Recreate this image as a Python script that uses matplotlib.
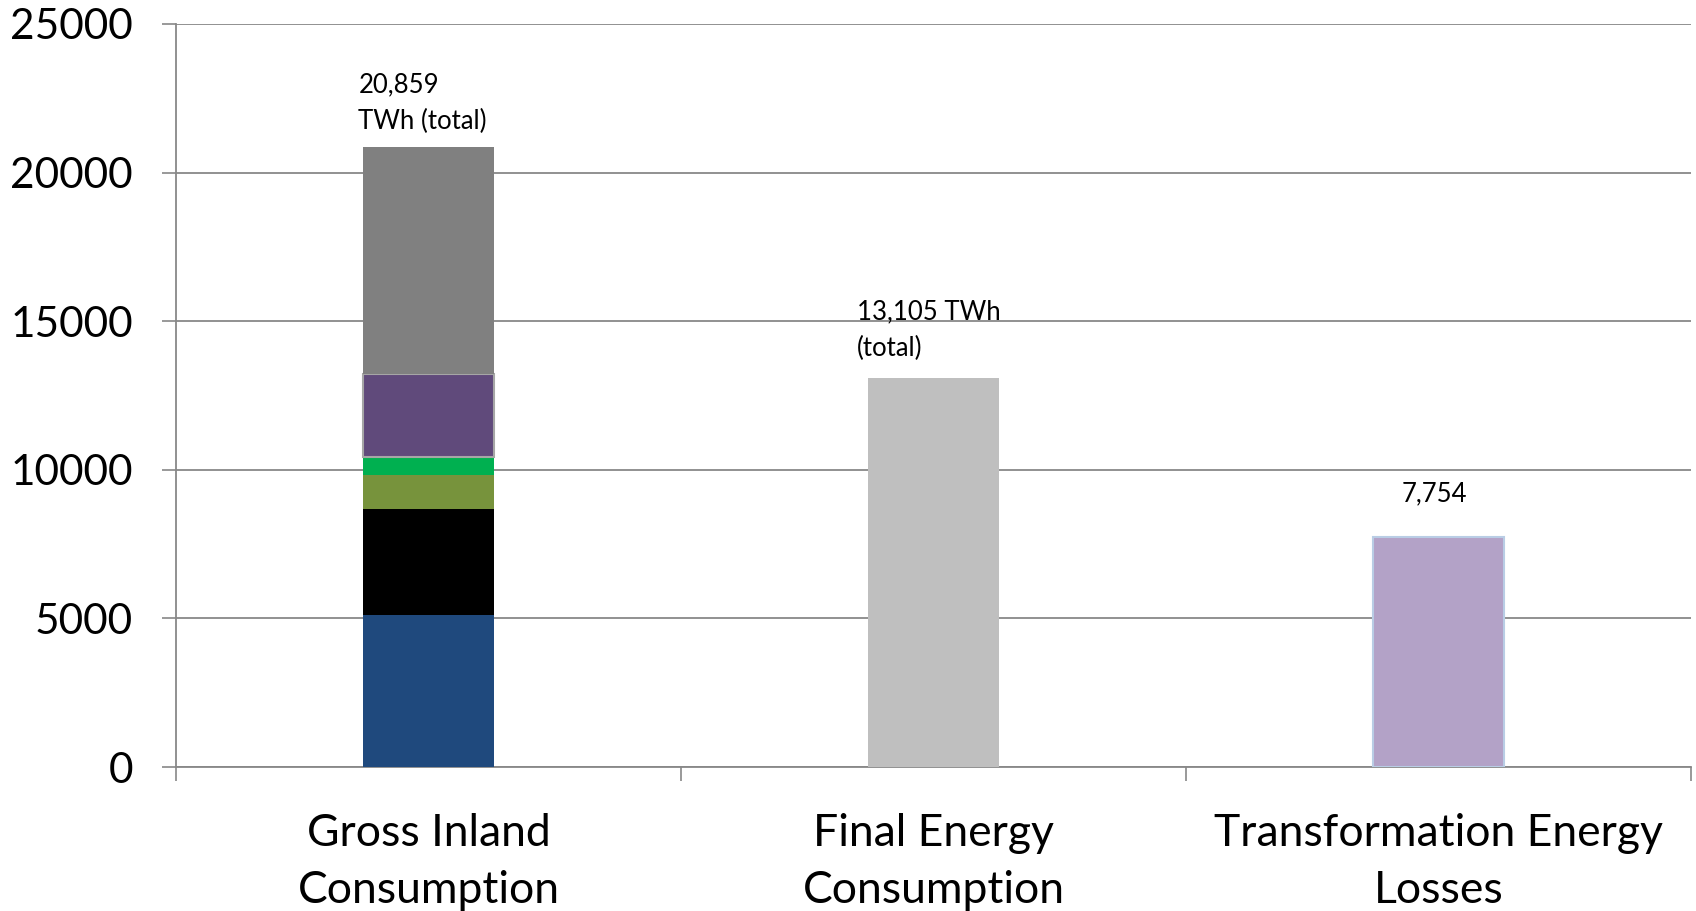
import matplotlib
matplotlib.use("Agg")
import matplotlib.pyplot as plt
import numpy as np

categories = ["Gross Inland\nConsumption", "Final Energy\nConsumption", "Transformation Energy\nLosses"]
# Stacked segments of Gross Inland Consumption (bottom to top), TWh
gross_segments = [5110, 3575, 1130, 630, 2780, 7634]
gross_colors = ["#1F497D", "#000000", "#77933C", "#00B050", "#604A7B", "#808080"]
final_value = 13105
losses_value = 7754
annotations = ["20,859\nTWh (total)", "13,105 TWh\n(total)", "7,754"]
yticks = [0, 5000, 10000, 15000, 20000, 25000]

plt.rcParams['font.family'] = ['Lato', 'DejaVu Sans']

fig = plt.figure(figsize=(16.96, 9.11), dpi=100)
ax = fig.add_axes([0.1038, 0.158, 0.8932, 0.8157])

w = 0.26
bottom = 0
for val, col in zip(gross_segments, gross_colors):
    ec = "#A6A6A6" if col == "#604A7B" else col
    lw = 1.5 if col == "#604A7B" else 0
    ax.bar(0, val, w, bottom=bottom, color=col, edgecolor=ec, linewidth=lw, zorder=3)
    bottom += val
ax.bar(1, final_value, w, color="#BFBFBF", linewidth=0, zorder=3)
ax.bar(2, losses_value, w, color="#B3A2C7", edgecolor="#B9CDE5", linewidth=1.5, zorder=3)

ax.text(-0.139, 23360, annotations[0], ha='left', va='top', fontsize=18.5, linespacing=1.55)
ax.text(1 - 0.152, 15730, annotations[1], ha='left', va='top', fontsize=18.5, linespacing=1.55)
ax.text(2 - 0.073, 9600, annotations[2], ha='left', va='top', fontsize=18.5)

ax.set_xlim(-0.5, 2.5)
ax.set_ylim(0, 25000)
ax.set_yticks(yticks)
ax.set_yticklabels([str(v) for v in yticks], fontsize=30.5)
ax.set_xticks([0, 1, 2])
ax.set_xticklabels(categories, fontsize=32, linespacing=1.5)
ax.set_xticks([-0.5, 0.5, 1.5, 2.5], minor=True)
ax.tick_params(axis='x', which='major', length=0, pad=33)
ax.tick_params(axis='x', which='minor', length=10, width=1.2, color="#888888")
ax.tick_params(axis='y', length=10, width=1.2, color="#888888", pad=21)

ax.grid(axis='y', color="#888888", linewidth=1.3, zorder=0)
ax.set_axisbelow(True)
for s in ['top', 'right']:
    ax.spines[s].set_visible(False)
for s in ['left', 'bottom']:
    ax.spines[s].set_color("#888888")
    ax.spines[s].set_linewidth(1.3)

fig.savefig("out.png", dpi=100)
